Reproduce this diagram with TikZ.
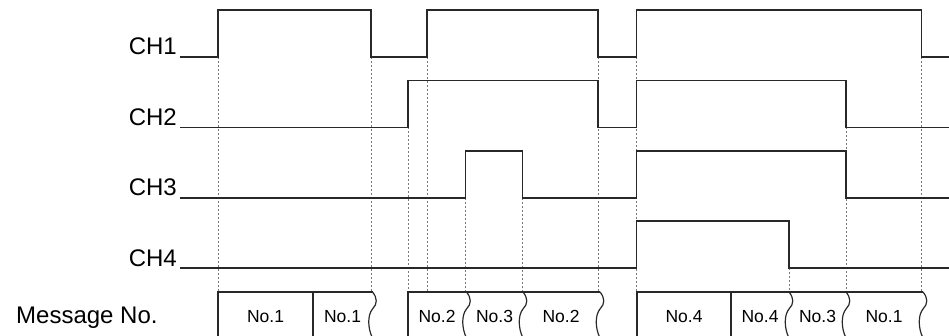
\documentclass[tikz,border=0pt]{standalone}
\usepackage{fontspec}
\setmainfont{Liberation Sans}
\usetikzlibrary{positioning}
\definecolor{sigdark}{RGB}{40,40,40}
\definecolor{guidegray}{RGB}{120,120,120}

\begin{document}
\begin{tikzpicture}[x=1pt, y=-1pt,
          sig/.style={draw=sigdark, line width=1.6pt, line join=miter},
          guide/.style={draw=guidegray, line width=0.8pt, dash pattern=on 2pt off 2pt},
          box/.style={draw=sigdark, line width=1.2pt},
          lbl/.style={font=\fontsize{24}{26}\selectfont, inner sep=0pt, anchor=base east},
          no/.style={font=\fontsize{17.5}{19}\selectfont, inner sep=0pt, anchor=base},
          brk/.pic={\draw[box] (0,0) .. controls (5,6) and (5,12) .. (0,17)
                       .. controls (-5,23) and (-5,36) .. (0,46);}]
        \useasboundingbox (0,0) rectangle (949,336);
        % channel labels
        \foreach \i/\y in {1/57, 2/127.5, 3/198, 4/268}
          \node[lbl] (ch\i) at (177,\y-2) {CH\i};
        \node[lbl, anchor=base west] (msg) at (16,323) {Message No.};
        % guides
        \foreach \x/\y in {218/57, 371/57, 408/127.5, 427/57, 465.5/198, 522.5/198,
                           598/57, 636.5/57, 789/268, 846/127.5, 921.5/57}
          \draw[guide] (\x,\y) -- (\x,292);
        % signals
        \draw[sig] (180,57) -| (218,10) -| (371,57) -| (427,10) -| (598,57)
                   -| (636.5,10) -| (921.5,57) -- (949,57);
        \draw[sig] (180,127.5) -| (408,80.5) -| (598,127.5) -| (636.5,80.5)
                   -| (846,127.5) -- (949,127.5);
        \draw[sig] (180,198) -| (465.5,151) -| (522.5,198) -| (636.5,151)
                   -| (846,198) -- (949,198);
        \draw[sig] (180,268) -| (636.5,221) -| (789,268) -- (949,268);
        % message boxes
        \draw[box] (372.5,292) -- (218,292) -- (218,340);
        \draw[box] (313,292) -- (313,340);
        \draw[box] (600,292) -- (408,292) -- (408,340);
        \draw[box] (923,292) -- (637,292) -- (637,340);
        \draw[box] (731,292) -- (731,340);
        \foreach \x in {372.5, 466.5, 523, 600, 789, 846, 923}
          \pic at (\x,292) {brk};
        \foreach \x/\t [count=\k] in {265.5/1, 342.5/1, 437/2, 494.5/3, 561/2,
                                      684/4, 760/4, 817.5/3, 884/1}
          \node[no] (m\k) at (\x,322) {No.\t};
\end{tikzpicture}
\end{document}
